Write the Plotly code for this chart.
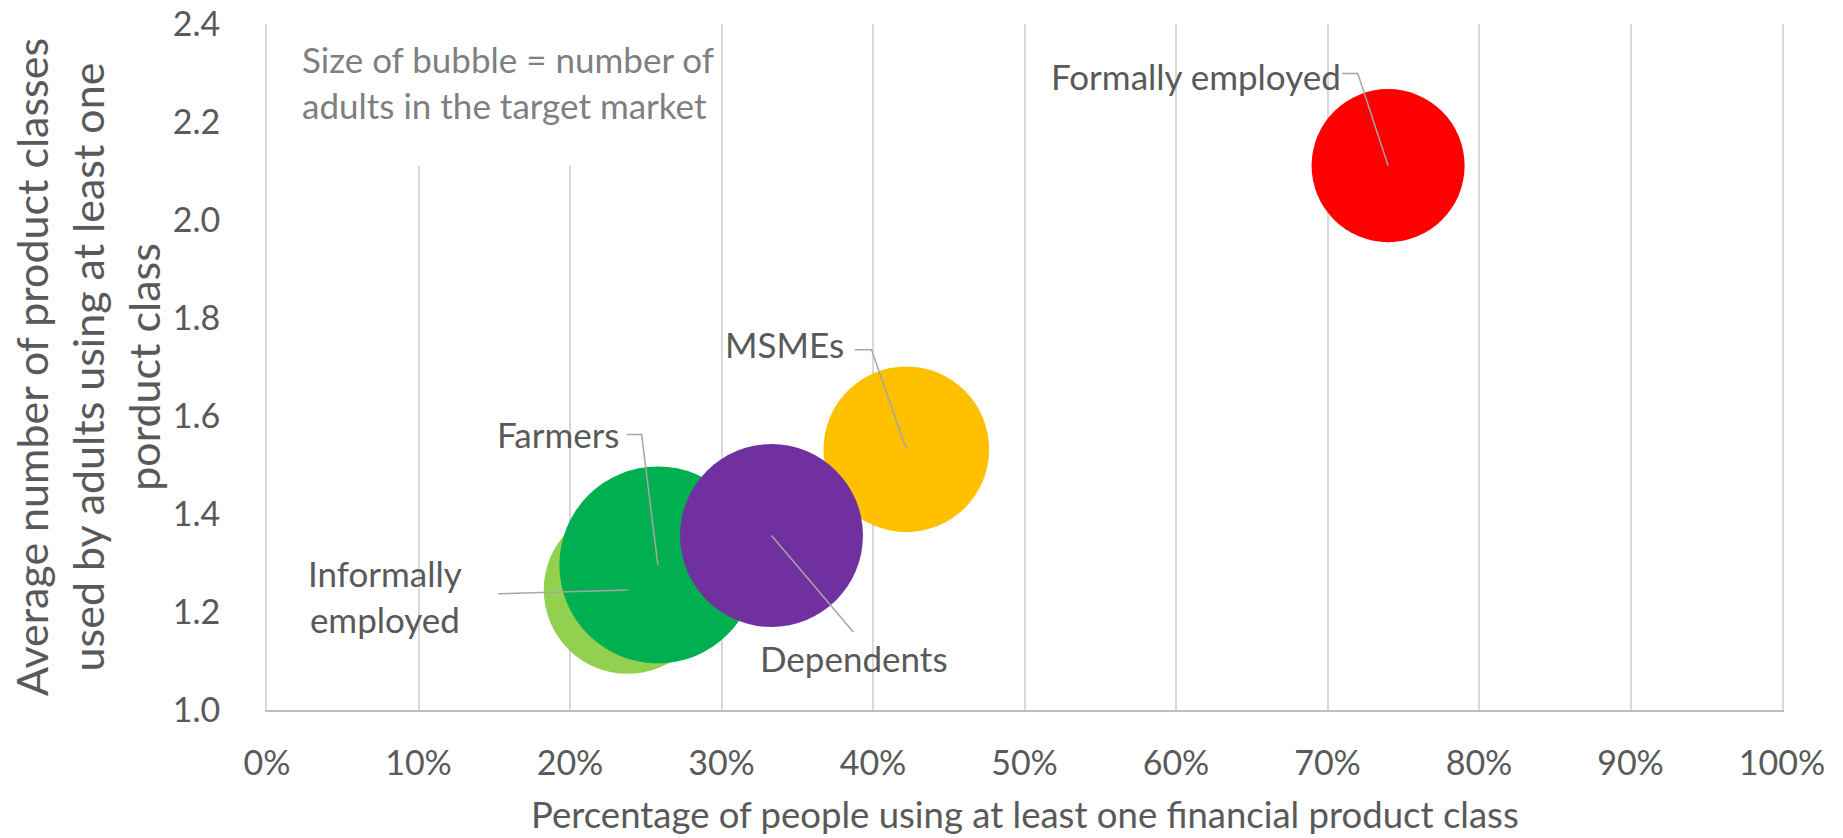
import plotly.graph_objects as go

# Segments of the target market
segments = ["Informally employed", "Farmers", "MSMEs", "Dependents", "Formally employed"]
# Percentage of people using at least one financial product class
pct_using = [23.8, 25.8, 42.2, 33.3, 74.0]
# Average number of product classes used by adults using at least one
avg_products = [1.245, 1.296, 1.532, 1.356, 2.111]
# Number of adults in the target market (millions) -> bubble area
adults = [2.10, 2.90, 2.05, 2.50, 1.75]
colors = ["#92D050", "#00B050", "#FFC000", "#7030A0", "#FF0000"]

x_ticks = list(range(0, 101, 10))
x_tick_labels = [f"{v}%" for v in x_ticks]
y_ticks = [1.0, 1.2, 1.4, 1.6, 1.8, 2.0, 2.2, 2.4]

FONT = "Lato"
TEXT_GREY = "#595959"
LEADER_GREY = "#A6A6A6"
GRID_GREY = "#D9D9D9"

# Data-label placement (text anchor and leader-line elbow), in axis units
label_layout = {
    "Formally employed": dict(tx=71.0, ty=2.294, xanchor="right",
                              leader=[(70.96, 2.299), (72.0, 2.299)]),
    "MSMEs": dict(tx=38.2, ty=1.746, xanchor="right",
                  leader=[(38.8, 1.735), (39.9, 1.735)]),
    "Farmers": dict(tx=23.4, ty=1.564, xanchor="right",
                    leader=[(23.74, 1.562), (24.73, 1.562)]),
    "Informally employed": dict(tx=7.76, ty=1.233, xanchor="center",
                                leader=[(15.27, 1.237)]),
    "Dependents": dict(tx=38.77, ty=1.107, xanchor="center",
                       leader=[(38.70, 1.159)]),
}
label_text = {"Informally employed": "Informally<br>employed"}

MAX_DIAMETER = 197
sizeref = 2.0 * max(adults) / MAX_DIAMETER ** 2

fig = go.Figure()
fig.add_trace(go.Scatter(
    x=pct_using, y=avg_products, mode="markers", text=segments,
    hovertemplate="%{text}<br>%{x}%<br>%{y}<extra></extra>",
    marker=dict(size=adults, sizemode="area", sizeref=sizeref,
                color=colors, opacity=1, line=dict(width=0)),
    showlegend=False,
))

annotations = []
for name, px, py in zip(segments, pct_using, avg_products):
    lay = label_layout[name]
    lx = [p[0] for p in lay["leader"]] + [px]
    ly = [p[1] for p in lay["leader"]] + [py]
    fig.add_trace(go.Scatter(x=lx, y=ly, mode="lines", hoverinfo="skip",
                             line=dict(color=LEADER_GREY, width=1.5),
                             showlegend=False))
    annotations.append(dict(
        x=lay["tx"], y=lay["ty"], xref="x", yref="y",
        text=label_text.get(name, name), showarrow=False,
        xanchor=lay["xanchor"], yanchor="middle", align="center",
        font=dict(family=FONT, size=35, color=TEXT_GREY),
    ))

# Note box explaining bubble size
annotations.append(dict(
    x=2.2, y=2.282, xref="x", yref="y", xanchor="left", yanchor="middle",
    align="left", showarrow=False,
    text="Size of bubble = number of<br>adults in the target market",
    font=dict(family=FONT, size=35, color="#7F7F7F"),
))

# Axis titles
annotations.append(dict(
    x=0.5, y=0, xref="paper", yref="paper", yshift=-104, xanchor="center",
    yanchor="middle", showarrow=False,
    text="Percentage of people using at least one financial product class",
    font=dict(family=FONT, size=36.5, color=TEXT_GREY),
))
annotations.append(dict(
    x=0, y=0.5, xref="paper", yref="paper", xshift=-180, xanchor="center",
    yanchor="middle", textangle=-90, showarrow=False,
    text=("Average number of product classes<br>used by adults using at least one"
          "<br>porduct class"),
    font=dict(family=FONT, size=43, color=TEXT_GREY),
))

fig.update_layout(
    width=1843, height=838,
    margin=dict(l=267, r=61, t=24, b=128, autoexpand=False),
    paper_bgcolor="white", plot_bgcolor="white",
    annotations=annotations,
    shapes=[dict(type="rect", xref="x", yref="y", x0=0.6, x1=29.4,
                 y0=2.11, y1=2.42, fillcolor="white", line=dict(width=0),
                 layer="above")],
    xaxis=dict(range=[0, 100], tickvals=x_ticks, ticktext=x_tick_labels,
               showgrid=True, gridcolor=GRID_GREY, gridwidth=2,
               zeroline=False, showline=True, linecolor="#BFBFBF", linewidth=2,
               ticks="", ticklabelstandoff=22, automargin=False,
               tickfont=dict(family=FONT, size=34, color=TEXT_GREY)),
    yaxis=dict(range=[1.0, 2.4], tickvals=y_ticks, tickformat=".1f",
               showgrid=False, zeroline=False, showline=True, mirror=True,
               linecolor=GRID_GREY, linewidth=2,
               ticks="", ticklabelstandoff=38, automargin=False,
               tickfont=dict(family=FONT, size=34, color=TEXT_GREY)),
)

fig.write_html("out.html")
